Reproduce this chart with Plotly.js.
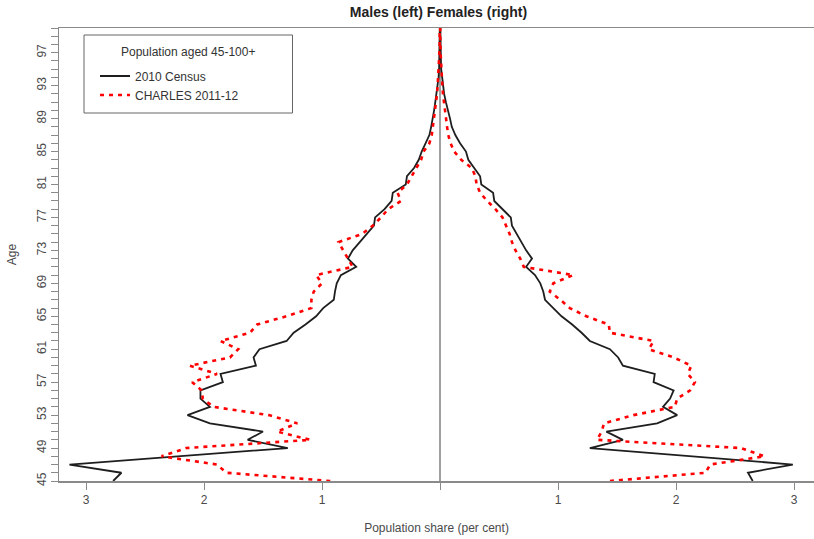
<!DOCTYPE html>
<html>
<head>
<meta charset="utf-8">
<script src="https://cdn.plot.ly/plotly-3.0.1.min.js"></script>
<style>
html,body{margin:0;padding:0;background:#fff;overflow:hidden;}
#chart{width:814px;height:539px;}
</style>
</head>
<body>
<div id="chart"></div>
<script>
// Ages (single years, 45 to 100+)
const ages = [45,46,47,48,49,50,51,52,53,54,55,56,57,58,59,60,61,62,63,64,65,66,67,68,69,70,71,72,73,74,75,76,77,78,79,80,81,82,83,84,85,86,87,88,89,90,91,92,93,94,95,96,97,98,99,100];

// Population share (per cent) - 2010 Census
const censusMales = [2.77,2.70,3.14,2.20,1.29,1.63,1.50,1.95,2.14,1.95,2.03,2.03,1.84,1.86,1.56,1.58,1.53,1.30,1.24,1.14,1.05,0.99,0.90,0.89,0.875,0.84,0.71,0.78,0.74,0.68,0.62,0.56,0.55,0.47,0.41,0.40,0.29,0.28,0.22,0.18,0.155,0.12,0.09,0.075,0.06,0.05,0.04,0.03,0.02,0.012,0.008,0.006,0.004,0.003,0.002,0.002];
const censusFemales = [2.65,2.61,2.99,2.09,1.27,1.55,1.41,1.84,2.01,1.89,1.95,1.98,1.81,1.82,1.55,1.51,1.44,1.27,1.20,1.12,1.03,0.96,0.89,0.875,0.85,0.805,0.73,0.78,0.73,0.69,0.65,0.61,0.60,0.53,0.46,0.45,0.35,0.34,0.29,0.24,0.22,0.17,0.13,0.10,0.085,0.065,0.05,0.035,0.025,0.015,0.01,0.008,0.006,0.004,0.003,0.003];

// Population share (per cent) - CHARLES 2011-12
const charlesMales = [0.93,1.81,1.89,2.36,2.15,1.10,1.38,1.21,1.45,1.92,2.01,2.02,2.10,1.89,2.12,1.78,1.71,1.86,1.61,1.55,1.30,1.09,1.09,1.07,1.00,1.05,0.74,0.78,0.82,0.86,0.66,0.57,0.50,0.44,0.33,0.36,0.28,0.24,0.20,0.16,0.14,0.09,0.07,0.06,0.05,0.04,0.03,0.025,0.02,0.015,0.01,0.007,0.005,0.003,0.002,0.002];
const charlesFemales = [1.44,2.25,2.29,2.75,2.55,1.33,1.37,1.39,1.64,1.99,2.01,2.12,2.16,2.10,2.13,1.98,1.77,1.81,1.44,1.43,1.24,1.10,1.02,0.93,0.96,1.13,0.71,0.68,0.64,0.61,0.59,0.56,0.53,0.47,0.40,0.34,0.31,0.30,0.27,0.18,0.12,0.09,0.07,0.06,0.05,0.04,0.03,0.025,0.02,0.015,0.01,0.007,0.005,0.003,0.002,0.002];

// Axis tick labels
const xTickVals = [-3,-2,-1,0,1,2,3];
const xTickText = ['3','2','1','','1','2','3'];

const seriesNames = ['2010 Census','CHARLES 2011-12'];
const legendTitle = 'Population aged 45-100+';
const chartTitle = 'Males (left) Females (right)';

const neg = a => a.map(v => -v);

const blackLine = {color:'#1e1e1e', width:1.8};
const redLine = {color:'#ff0000', width:2.6, dash:'4px,5px'};

const traces = [
  {x: neg(censusMales), y: ages, type:'scatter', mode:'lines', name: seriesNames[0], legendgroup:'c', line: blackLine},
  {x: censusFemales, y: ages, type:'scatter', mode:'lines', name: seriesNames[0], legendgroup:'c', showlegend:false, line: blackLine},
  {x: neg(charlesMales), y: ages, type:'scatter', mode:'lines', name: seriesNames[1], legendgroup:'h', line: redLine},
  {x: charlesFemales, y: ages, type:'scatter', mode:'lines', name: seriesNames[1], legendgroup:'h', showlegend:false, line: redLine}
];

const axisColor = '#8a8a8a';
const textColor = '#4a4a4a';
const L = 59, R = 814, T = 28, B = 481;
const px2x = p => (p - L) / (R - L);
const py2y = p => (B - p) / (B - T);

const layout = {
  width: 814, height: 539,
  margin: {l: L, r: 814 - R, t: T, b: 539 - B, pad: 0},
  paper_bgcolor: '#ffffff', plot_bgcolor: '#ffffff',
  font: {family: '"Liberation Sans", Arial, sans-serif', size: 12, color: textColor},
  title: {text: '<b>' + chartTitle + '</b>', x: 438.5/814, xref: 'container', xanchor: 'center', y: 1 - 12/539, yref: 'container', yanchor: 'middle', font: {size: 14, color: '#222'}},
  xaxis: {
    range: [(L - 440)/118, (R - 440)/118],
    tickmode: 'array', tickvals: xTickVals, ticktext: xTickText,
    ticks: 'outside', ticklen: 7, tickwidth: 1, tickcolor: axisColor,
    showline: true, mirror: true, linecolor: axisColor, linewidth: 1.5,
    showgrid: false, zeroline: true, zerolinecolor: '#a0a0a0', zerolinewidth: 2,
    tickfont: {size: 12, color: textColor},
    title: {text: 'Population share (per cent)', font: {size: 12, color: textColor}, standoff: 17},
    fixedrange: true
  },
  yaxis: {
    range: [45, 100],
    tickmode: 'linear', tick0: 45, dtick: 4,
    ticks: 'outside', ticklen: 7, tickwidth: 1, tickcolor: axisColor,
    minor: {dtick: 1, tick0: 45, ticks: 'outside', ticklen: 7, tickwidth: 1, tickcolor: axisColor, showgrid: false},
    tickangle: -90,
    showline: true, mirror: false, linecolor: axisColor, linewidth: 1.5,
    showgrid: false, zeroline: false,
    tickfont: {size: 12, color: textColor},
    title: {text: 'Age', font: {size: 12, color: textColor}, standoff: 15},
    fixedrange: true
  },
  showlegend: true,
  legend: {
    x: px2x(95), xanchor: 'left', xref: 'paper',
    y: py2y(61.5), yanchor: 'top', yref: 'paper',
    bgcolor: 'rgba(0,0,0,0)', borderwidth: 0,
    font: {size: 12, color: '#333'},
    tracegroupgap: 0
  },
  shapes: [
    {type: 'rect', xref: 'paper', yref: 'paper', x0: px2x(84), x1: px2x(292.5), y0: py2y(113), y1: py2y(35),
     line: {color: '#666', width: 1}, fillcolor: 'rgba(0,0,0,0)', layer: 'above'}
  ],
  annotations: [
    {text: legendTitle, xref: 'paper', yref: 'paper', x: px2x(188), y: py2y(52), xanchor: 'center', yanchor: 'middle',
     showarrow: false, font: {size: 12, color: '#333'}}
  ]
};

Plotly.newPlot('chart', traces, layout, {displayModeBar: false, staticPlot: true});
</script>
</body>
</html>
